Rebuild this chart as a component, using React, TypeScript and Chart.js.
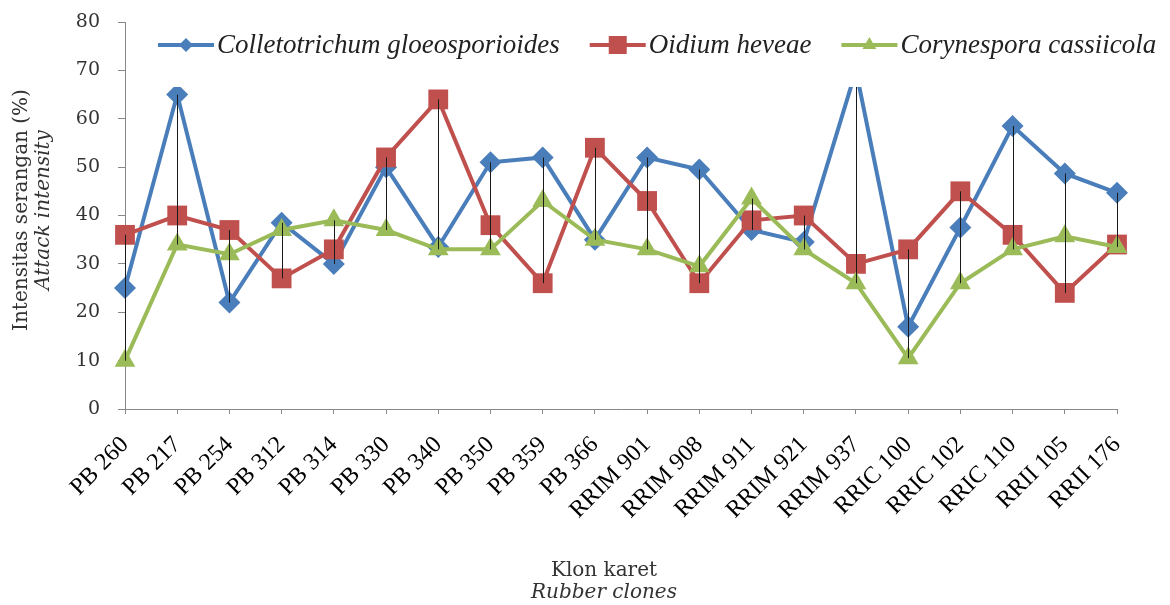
import React, { useEffect, useRef } from 'react';
import { Chart, registerables } from 'chart.js';

Chart.register(...registerables);

const clones = [
  'PB 260', 'PB 217', 'PB 254', 'PB 312', 'PB 314', 'PB 330', 'PB 340', 'PB 350', 'PB 359', 'PB 366',
  'RRIM 901', 'RRIM 908', 'RRIM 911', 'RRIM 921', 'RRIM 937', 'RRIC 100', 'RRIC 102', 'RRIC 110', 'RRII 105', 'RRII 176',
];
const colletotrichum = [25, 65, 22, 38.5, 30, 50, 33.5, 51, 52, 35, 52, 49.5, 37, 34.5, 70, 17, 37.5, 58.5, 48.7, 44.7];
const oidium = [36, 40, 37, 27, 33, 52, 64, 38, 26, 54, 43, 26, 39, 40, 30, 33, 45, 36, 24, 34];
const corynespora = [10, 34, 32, 37, 39, 37, 33, 33, 43, 35, 33, 29.5, 43.5, 33, 26, 10.5, 26, 33, 35.7, 33.5];
const seriesNames = ['Colletotrichum gloeosporioides', 'Oidium heveae', 'Corynespora cassiicola'];
const yTitle = ['Intensitas serangan (%)', 'Attack intensity'];
const xTitle = ['Klon karet', 'Rubber clones'];

const BLUE = '#4A7EBB';
const RED = '#C0504D';
const GREEN = '#9BBB59';
const SERIF = '"DejaVu Serif", serif';
const LEG_FONT = 'italic 27px "Liberation Serif", serif';

function drawMarker(ctx: CanvasRenderingContext2D, kind: string, x: number, y: number, r: number, color: string) {
  ctx.save();
  ctx.fillStyle = color;
  ctx.beginPath();
  if (kind === 'diamond') {
    ctx.moveTo(x, y - r); ctx.lineTo(x + r, y); ctx.lineTo(x, y + r); ctx.lineTo(x - r, y); ctx.closePath();
  } else if (kind === 'square') {
    ctx.rect(x - r, y - r, 2 * r, 2 * r);
  } else {
    ctx.moveTo(x, y - r); ctx.lineTo(x + r * 0.87, y + r * 0.5); ctx.lineTo(x - r * 0.87, y + r * 0.5); ctx.closePath();
  }
  ctx.fill();
  ctx.restore();
}

const overlayPlugin = {
  id: 'overlay',
  afterDatasetsDraw(chart: any) {
    const ctx: CanvasRenderingContext2D = chart.ctx;
    const xs = chart.scales.x;
    const ys = chart.scales.y;
    const area = chart.chartArea;
    // high-low lines
    ctx.save();
    ctx.strokeStyle = '#1a1a1a';
    ctx.lineWidth = 1;
    for (let i = 0; i < clones.length; i++) {
      const vals = chart.data.datasets.map((d: any) => d.data[i] as number);
      const hi = Math.max(...vals);
      const lo = Math.min(...vals);
      const px = Math.round(xs.getPixelForValue(i)) + 0.5;
      ctx.beginPath();
      ctx.moveTo(px, ys.getPixelForValue(hi));
      ctx.lineTo(px, ys.getPixelForValue(lo));
      ctx.stroke();
    }
    ctx.restore();

    // legend
    ctx.save();
    ctx.fillStyle = '#ffffff';
    ctx.fillRect(area.left + 25, area.top + 4, area.right - area.left + 25, 61);
    const colors = [BLUE, RED, GREEN];
    const kinds = ['diamond', 'square', 'triangle'];
    const sizes = [7, 9, 8];
    const ly = area.top + 23;
    let lx = area.left + 33;
    ctx.font = LEG_FONT;
    ctx.textBaseline = 'middle';
    ctx.textAlign = 'left';
    for (let k = 0; k < 3; k++) {
      ctx.strokeStyle = colors[k];
      ctx.lineWidth = 4;
      ctx.beginPath();
      ctx.moveTo(lx, ly);
      ctx.lineTo(lx + 56, ly);
      ctx.stroke();
      drawMarker(ctx, kinds[k], lx + 28, ly, sizes[k], colors[k]);
      ctx.fillStyle = '#222222';
      ctx.fillText(seriesNames[k], lx + 59, ly + 1);
      lx += 59 + ctx.measureText(seriesNames[k]).width + 30;
    }
    ctx.restore();
  },
  afterDraw(chart: any) {
    const ctx: CanvasRenderingContext2D = chart.ctx;
    ctx.save();
    ctx.fillStyle = '#333333';
    ctx.textAlign = 'center';
    ctx.textBaseline = 'middle';
    // y title
    ctx.translate(0, 210);
    ctx.rotate(-Math.PI / 2);
    ctx.font = '20px ' + SERIF;
    ctx.fillText(yTitle[0], 0, 22);
    ctx.font = 'italic 20px ' + SERIF;
    ctx.fillText(yTitle[1], 0, 44);
    ctx.restore();
    ctx.save();
    ctx.fillStyle = '#333333';
    ctx.textAlign = 'center';
    ctx.textBaseline = 'middle';
    ctx.font = '20px ' + SERIF;
    ctx.fillText(xTitle[0], 604, 571);
    ctx.font = 'italic 20px ' + SERIF;
    ctx.fillText(xTitle[1], 604, 593);
    ctx.restore();
  },
};

export default function App() {
  const canvasRef = useRef<HTMLCanvasElement | null>(null);

  useEffect(() => {
    const canvas = canvasRef.current;
    if (!canvas) return;
    const mk = (label: string, data: number[], color: string, style: string, radius: number, order: number) => ({
      label,
      data,
      borderColor: color,
      backgroundColor: color,
      borderWidth: 4,
      pointStyle: style,
      pointRadius: radius,
      pointBorderWidth: 0,
      pointBackgroundColor: color,
      pointBorderColor: color,
      tension: 0,
      order,
    });
    const chart = new Chart(canvas, {
      type: 'line',
      data: {
        labels: clones,
        datasets: [
          mk(seriesNames[0], colletotrichum, BLUE, 'rectRot', 11, 3),
          mk(seriesNames[1], oidium, RED, 'rect', 14, 2),
          mk(seriesNames[2], corynespora, GREEN, 'triangle', 12, 1),
        ],
      },
      options: {
        animation: false,
        responsive: false,
        devicePixelRatio: 1,
        layout: { padding: { left: 0, top: 22, right: 53, bottom: 0 } },
        plugins: { legend: { display: false }, tooltip: { enabled: false } },
        scales: {
          x: {
            type: 'category',
            offset: false,
            afterFit: (s: any) => { s.height = 196; },
            grid: { drawOnChartArea: false, drawTicks: true, tickLength: 5, color: '#888888' },
            border: { display: true, color: '#888888', width: 1 },
            ticks: {
              autoSkip: false,
              maxRotation: 45,
              minRotation: 45,
              padding: 17,
              color: '#000000',
              font: { family: '"Liberation Serif", serif', size: 24 },
            },
          },
          y: {
            min: 0,
            max: 80,
            afterFit: (s: any) => { s.width = 125; s.paddingTop = 5; s.paddingBottom = 5; },
            grid: { drawOnChartArea: false, drawTicks: true, tickLength: 7, color: '#888888' },
            border: { display: true, color: '#888888', width: 1 },
            ticks: {
              stepSize: 10,
              padding: 18,
              color: '#333333',
              font: { family: '"DejaVu Serif", serif', size: 19 },
            },
          },
        },
      },
      plugins: [overlayPlugin],
    } as any);
    return () => chart.destroy();
  }, []);

  return (
    <div style={{ position: 'absolute', left: 0, top: 0, width: 1170, height: 605, background: '#fff' }}>
      <canvas ref={canvasRef} width={1170} height={605} style={{ display: 'block' }} />
    </div>
  );
}
